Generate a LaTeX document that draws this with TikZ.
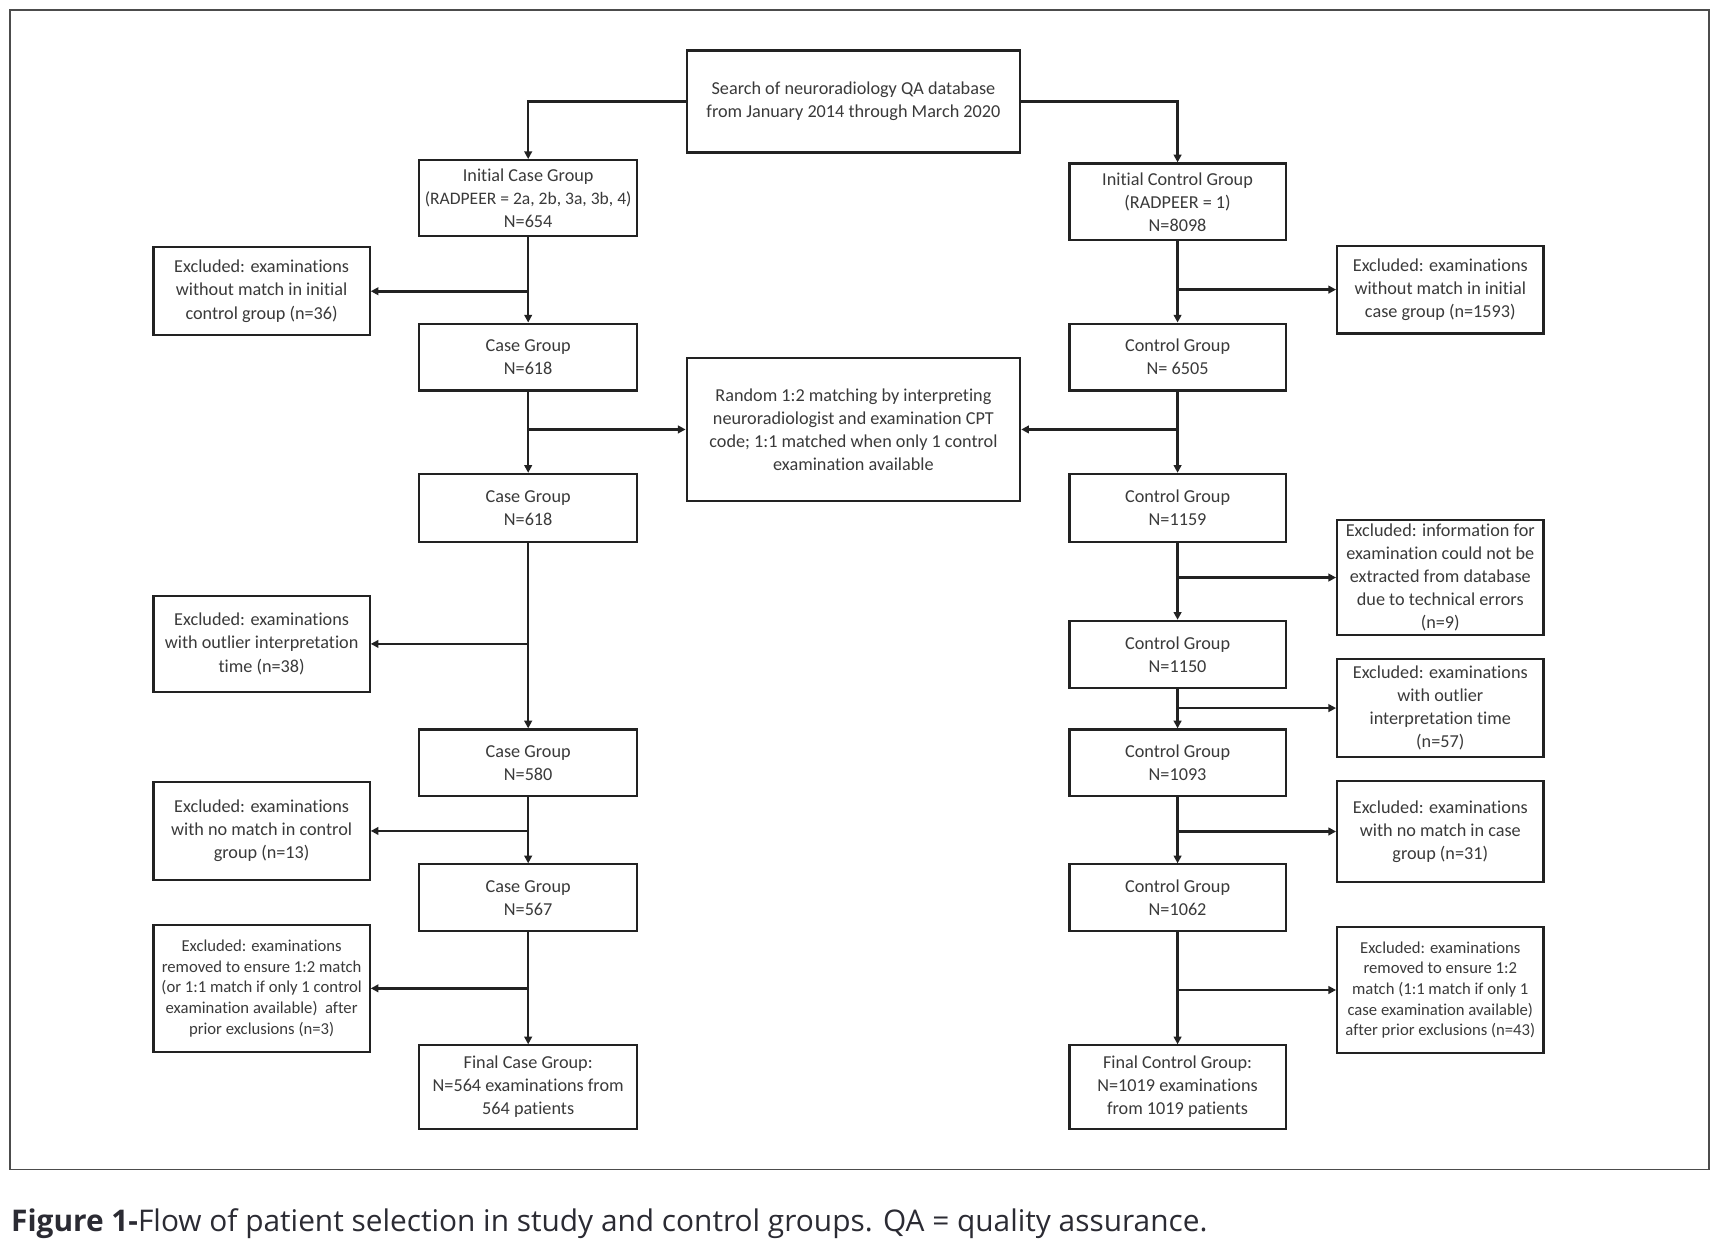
\documentclass[tikz,border=0pt]{standalone}
\usepackage{fontspec}
\setmainfont{Carlito}[Ligatures=CommonOff]
\newfontfamily\capfont{Open Sans}
\usetikzlibrary{arrows.meta}
\definecolor{txt}{HTML}{3A3A3A}
\definecolor{edge}{HTML}{222222}
\definecolor{captxt}{HTML}{2B2B33}
\begin{document}
\begin{tikzpicture}[x=1pt,y=-1pt,
  box/.style={draw=edge, line width=2pt, rectangle, align=center, inner sep=0pt,
    text=txt, font=\fontsize{16.6}{21}\selectfont},
  smallbox/.style={box, font=\fontsize{15.2}{18.8}\selectfont},
  arr/.style={draw=edge, line width=2.3pt, -{Triangle[length=7pt,width=7pt]}}]
\useasboundingbox (0,0) rectangle (1568,1137.7);
\fill[white] (0,0) rectangle (1568,1137.7);
\draw[line width=1.4pt, color=black!70] (9,9) rectangle (1558,1066);

% center column
\node[box, minimum width=304, minimum height=93] (top) at (778,92.5)
  {Search of neuroradiology QA database\\from January 2014 through March 2020};
\node[box, minimum width=304, minimum height=131] (rnd) at (778,391.5)
  {Random 1:2 matching by interpreting\\neuroradiologist and examination CPT\\code; 1:1 matched when only 1 control\\examination available};

% left column
\node[box, minimum width=199, minimum height=69] (icg) at (481.5,180.5)
  {Initial Case Group\\{\fontsize{16}{21}\selectfont(RADPEER = 2a, 2b, 3a, 3b, 4)}\\N=654};
\node[box, minimum width=199, minimum height=61] (cg1) at (481.5,325.5)
  {Case Group\\N=618};
\node[box, minimum width=199, minimum height=62] (cg2) at (481.5,463)
  {Case Group\\N=618};
\node[box, minimum width=199, minimum height=61] (cg3) at (481.5,695.5)
  {Case Group\\N=580};
\node[box, minimum width=199, minimum height=61] (cg4) at (481.5,818.5)
  {Case Group\\N=567};
\node[box, minimum width=199, minimum height=76] (cgf) at (481.5,991)
  {Final Case Group:\\N=564 examinations from\\564 patients};

\node[box, minimum width=197, minimum height=80] (lx1) at (238.5,265.5)
  {Excluded: examinations\\without match in initial\\control group (n=36)};
\node[box, minimum width=197, minimum height=88] (lx2) at (238.5,587)
  {Excluded: examinations\\with outlier interpretation\\time (n=38)};
\node[box, minimum width=197, minimum height=89] (lx3) at (238.5,757.5)
  {Excluded: examinations\\with no match in control\\group (n=13)};
\node[smallbox, minimum width=197, minimum height=116] (lx4) at (238.5,901)
  {Excluded: examinations\\removed to ensure 1:2 match\\(or 1:1 match if only 1 control\\examination available)\ \ after\\prior exclusions (n=3)};

% right column
\node[box, minimum width=197, minimum height=70] (ic) at (1073.5,184)
  {Initial Control Group\\(RADPEER = 1)\\N=8098};
\node[box, minimum width=197, minimum height=61] (c1) at (1073.5,325.5)
  {Control Group\\N= 6505};
\node[box, minimum width=197, minimum height=62] (c2) at (1073.5,463)
  {Control Group\\N=1159};
\node[box, minimum width=197, minimum height=61] (c3) at (1073.5,596.5)
  {Control Group\\N=1150};
\node[box, minimum width=197, minimum height=61] (c4) at (1073.5,695.5)
  {Control Group\\N=1093};
\node[box, minimum width=197, minimum height=61] (c5) at (1073.5,818.5)
  {Control Group\\N=1062};
\node[box, minimum width=197, minimum height=76] (cf) at (1073.5,991)
  {Final Control Group:\\N=1019 examinations\\from 1019 patients};

\node[box, minimum width=188, minimum height=80] (rx1) at (1313,264)
  {Excluded: examinations\\without match in initial\\case group (n=1593)};
\node[box, minimum width=188, minimum height=105] (rx2) at (1313,526.5)
  {Excluded: information for\\examination could not be\\extracted from database\\due to technical errors\\(n=9)};
\node[box, minimum width=188, minimum height=89] (rx3) at (1313,645.5)
  {Excluded: examinations\\with outlier\\interpretation time\\(n=57)};
\node[box, minimum width=188, minimum height=92] (rx4) at (1313,758)
  {Excluded: examinations\\with no match in case\\group (n=31)};
\node[smallbox, minimum width=188, minimum height=115] (rx5) at (1313,902.5)
  {Excluded: examinations\\removed to ensure 1:2\\match (1:1 match if only 1\\case examination available)\\after prior exclusions (n=43)};

% connectors
\draw[arr] (top.west) -| (icg.north);
\draw[arr] (top.east) -| (ic.north);

\draw[arr] (icg.south) -- (cg1.north);
\draw[arr] (icg.south |- lx1.east) -- (lx1.east);
\draw[arr] (cg1.south) -- (cg2.north);
\draw[arr] (cg1.south |- rnd.west) -- (rnd.west);
\draw[arr] (cg2.south) -- (cg3.north);
\draw[arr] (cg2.south |- lx2.east) -- (lx2.east);
\draw[arr] (cg3.south) -- (cg4.north);
\draw[arr] (cg3.south |- lx3.east) -- (lx3.east);
\draw[arr] (cg4.south) -- (cgf.north);
\draw[arr] (cg4.south |- lx4.east) -- (lx4.east);

\draw[arr] (ic.south) -- (c1.north);
\draw[arr] (ic.south |- rx1.west) -- (rx1.west);
\draw[arr] (c1.south) -- (c2.north);
\draw[arr] (c1.south |- rnd.east) -- (rnd.east);
\draw[arr] (c2.south) -- (c3.north);
\draw[arr] (c2.south |- rx2.west) -- (rx2.west);
\draw[arr] (c3.south) -- (c4.north);
\draw[arr] (c3.south |- rx3.west) -- (rx3.west);
\draw[arr] (c4.south) -- (c5.north);
\draw[arr] (c4.south |- rx4.west) -- (rx4.west);
\draw[arr] (c5.south) -- (cf.north);
\draw[arr] (c5.south |- rx5.west) -- (rx5.west);

% caption
\node[anchor=base west, inner sep=0pt, text=captxt, font=\capfont\fontsize{27.2}{32}\selectfont] (cap) at (10,1123)
  {\textbf{Figure 1-}Flow of patient selection in study and control groups. QA = quality assurance.};
\end{tikzpicture}
\end{document}
